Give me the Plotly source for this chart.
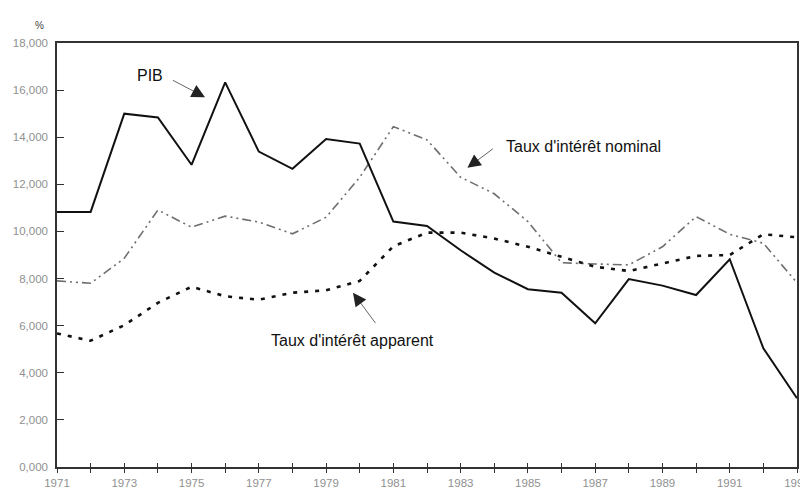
import plotly.graph_objects as go

years = list(range(1971, 1994))
pib = [10.83, 10.83, 15.0, 14.84, 12.83, 16.33, 13.39, 12.66, 13.92, 13.73,
       10.42, 10.23, 9.2, 8.25, 7.55, 7.4, 6.1, 7.98, 7.7, 7.3, 8.82, 5.04, 2.92]
nominal = [7.9, 7.8, 8.86, 10.91, 10.18, 10.65, 10.4, 9.9, 10.6, 12.3,
           14.45, 13.89, 12.3, 11.6, 10.42, 8.67, 8.62, 8.58, 9.35, 10.63, 9.88, 9.5, 7.82]
apparent = [5.67, 5.36, 6.02, 6.97, 7.65, 7.25, 7.1, 7.4, 7.5, 7.9,
            9.37, 9.95, 9.95, 9.7, 9.35, 8.93, 8.5, 8.32, 8.65, 8.96, 9.0, 9.88, 9.75]
y_ticks = [0, 2, 4, 6, 8, 10, 12, 14, 16, 18]
y_tick_labels = ["0,000", "2,000", "4,000", "6,000", "8,000", "10,000",
                 "12,000", "14,000", "16,000", "18,000"]
x_tick_labels = [str(y) for y in range(1971, 1994, 2)]

fig = go.Figure()
fig.add_trace(go.Scatter(x=years, y=nominal, mode="lines", name="Taux d'intérêt nominal",
                         line=dict(color="#6e6e6e", width=1.6, dash="9px,4px,2px,4px,2px,4px")))
fig.add_trace(go.Scatter(x=years, y=apparent, mode="lines", name="Taux d'intérêt apparent",
                         line=dict(color="#111111", width=2.6, dash="4px,7px")))
fig.add_trace(go.Scatter(x=years, y=pib, mode="lines", name="PIB",
                         line=dict(color="#111111", width=2)))

tickfont = dict(family="Liberation Sans", size=11.5, color="#909090")
fig.update_layout(
    width=800, height=485,
    margin=dict(l=49, r=11, t=35, b=26),
    paper_bgcolor="white", plot_bgcolor="white",
    showlegend=False,
    font=dict(family="Liberation Sans", color="#111111"),
    xaxis=dict(range=[1971, 1993], tickmode="array", tickvals=list(range(1971, 1994, 2)),
               ticktext=x_tick_labels, tickfont=tickfont, showgrid=False, zeroline=False,
               showline=True, linecolor="#333333", linewidth=1.5, mirror=True,
               automargin=False, ticklabeloverflow="allow",
               ticks="outside", ticklen=4, tickcolor="#333333",
               minor=dict(tickvals=list(range(1972, 1993, 2)), ticks="outside", ticklen=4,
                          tickcolor="#333333")),
    xaxis2=dict(range=[1971, 1993], overlaying="x", tickmode="array",
                tickvals=years, showticklabels=False, ticks="inside", ticklen=4,
                tickcolor="#333333", showgrid=False, zeroline=False, showline=False,
                automargin=False),
    yaxis=dict(range=[0, 18], tickmode="array", tickvals=y_ticks, ticktext=y_tick_labels,
               tickfont=tickfont, showgrid=False, zeroline=False, showline=True,
               linecolor="#333333", linewidth=1.5, mirror=True, automargin=False,
               ticklabelstandoff=5,
               ticks="inside", ticklen=7, tickcolor="#333333"),
)
fig.add_trace(go.Scatter(x=[1971], y=[0], xaxis="x2", mode="markers",
                         marker=dict(opacity=0), hoverinfo="skip"))

fig.add_annotation(text="%", xref="paper", yref="paper", x=-0.032, y=1.06,
                   showarrow=False, font=dict(size=10, color="#444444"))

ann_font = dict(family="Liberation Sans", size=16, color="#111111")
arrow = dict(showarrow=True, arrowhead=2, arrowsize=3.8, arrowwidth=0.7,
             arrowcolor="#222222", axref="x", ayref="y", text="")
fig.add_annotation(x=1975.4, y=15.7, ax=1974.4, ay=16.45, **arrow)
fig.add_annotation(x=1973.75, y=16.6, text="PIB", showarrow=False, font=ann_font)

fig.add_annotation(x=1983.2, y=12.7, ax=1984.0, ay=13.55, **arrow)
fig.add_annotation(x=1984.3, y=13.6, text="Taux d'intérêt nominal", showarrow=False,
                   xanchor="left", font=ann_font)

fig.add_annotation(x=1979.8, y=7.4, ax=1980.5, ay=6.05, **arrow)
fig.add_annotation(x=1977.3, y=5.35, text="Taux d'intérêt apparent", showarrow=False,
                   xanchor="left", font=ann_font)

fig.write_html("out.html")
